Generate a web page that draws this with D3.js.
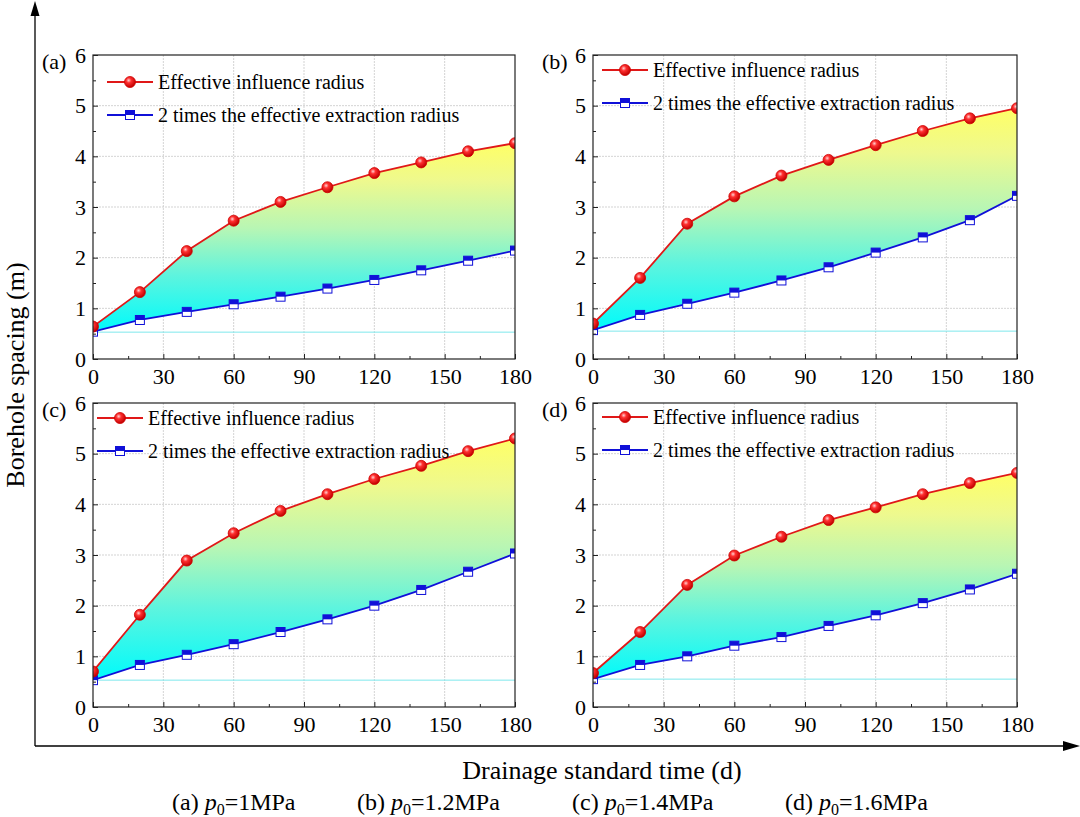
<!DOCTYPE html>
<html><head><meta charset="utf-8">
<script src="https://cdn.jsdelivr.net/npm/d3@7"></script>
<style>body{margin:0;background:#fff}svg{display:block}text{font-family:"Liberation Serif","Times New Roman",serif;fill:#000}</style>
</head><body>
<svg id="c" width="1080" height="817"></svg>
<script>
// ---- data ----
const days = [0, 20, 40, 60, 80, 100, 120, 140, 160, 180];
const panelLabels = ["(a)", "(b)", "(c)", "(d)"];
const influenceA = [0.64, 1.32, 2.13, 2.73, 3.10, 3.39, 3.67, 3.88, 4.10, 4.26];
const extractionA = [0.54, 0.77, 0.93, 1.08, 1.23, 1.39, 1.56, 1.75, 1.94, 2.14];
const influenceB = [0.70, 1.60, 2.67, 3.21, 3.62, 3.93, 4.22, 4.50, 4.75, 4.95];
const extractionB = [0.57, 0.87, 1.09, 1.31, 1.55, 1.81, 2.10, 2.40, 2.74, 3.22];
const influenceC = [0.70, 1.82, 2.89, 3.43, 3.87, 4.20, 4.50, 4.76, 5.05, 5.30];
const extractionC = [0.53, 0.83, 1.03, 1.24, 1.48, 1.73, 2.00, 2.31, 2.67, 3.03];
const influenceD = [0.67, 1.48, 2.41, 2.99, 3.36, 3.69, 3.94, 4.20, 4.42, 4.62];
const extractionD = [0.55, 0.83, 1.00, 1.21, 1.38, 1.60, 1.81, 2.05, 2.32, 2.63];
const baseLines = [0.53, 0.55, 0.53, 0.55];
const xTicks = [0, 30, 60, 90, 120, 150, 180];
const yTicks = [0, 1, 2, 3, 4, 5, 6];
const seriesNames = ["Effective influence radius", "2 times the effective extraction radius"];
const captions = [["(a) ", "1MPa"], ["(b) ", "1.2MPa"], ["(c) ", "1.4MPa"], ["(d) ", "1.6MPa"]];
const xTitle = "Drainage standard time (d)";
const yTitle = "Borehole spacing (m)";

const influence = [influenceA, influenceB, influenceC, influenceD];
const extraction = [extractionA, extractionB, extractionC, extractionD];

// ---- layout ----
const panels = [
  {l: 93, t: 55, w: 422, h: 304, lgx: 14, lgy: 27},
  {l: 593, t: 55, w: 424, h: 304, lgx: 9, lgy: 15},
  {l: 93, t: 403, w: 422, h: 304, lgx: 4, lgy: 15},
  {l: 593, t: 403, w: 424, h: 304, lgx: 9, lgy: 14}
];
const svg = d3.select("#c");
const defs = svg.append("defs");

// gradients
const fillG = defs.append("linearGradient").attr("id", "fillG")
  .attr("x1", 0).attr("y1", 1).attr("x2", 0).attr("y2", 0);
[[0, "#00fbfb"], [0.3, "#5ef4de"], [0.55, "#b8f6b4"], [0.8, "#eef98e"], [1, "#ffff66"]]
  .forEach(([o, c]) => fillG.append("stop").attr("offset", o).attr("stop-color", c));
const ballG = defs.append("radialGradient").attr("id", "ballG")
  .attr("cx", 0.38).attr("cy", 0.35).attr("r", 0.65);
[[0, "#ffd0d0"], [0.35, "#ff3030"], [1, "#c00000"]]
  .forEach(([o, c]) => ballG.append("stop").attr("offset", o).attr("stop-color", c));

const red = "#e01818", blue = "#1010d8";

function circleMarker(g, cx, cy) {
  g.append("circle").attr("cx", cx).attr("cy", cy).attr("r", 5.5)
    .attr("fill", "url(#ballG)").attr("stroke", "#d00000").attr("stroke-width", 0.8);
}
function squareMarker(g, cx, cy) {
  const s = 9;
  g.append("rect").attr("x", cx - s / 2).attr("y", cy - s / 2).attr("width", s).attr("height", s)
    .attr("fill", "#fff").attr("stroke", blue).attr("stroke-width", 1);
  g.append("rect").attr("x", cx - s / 2).attr("y", cy - s / 2).attr("width", s).attr("height", s / 2)
    .attr("fill", blue);
}

panels.forEach((p, i) => {
  const x = d3.scaleLinear().domain([0, 180]).range([p.l, p.l + p.w]);
  const y = d3.scaleLinear().domain([0, 6]).range([p.t + p.h, p.t]);
  const g = svg.append("g");
  const clipId = "clip" + i;
  defs.append("clipPath").attr("id", clipId).append("rect")
    .attr("x", p.l).attr("y", p.t).attr("width", p.w).attr("height", p.h);

  // grid
  const grid = g.append("g").attr("stroke", "#c8c8c8").attr("stroke-width", 0.8).attr("stroke-dasharray", "2,1");
  xTicks.slice(1, -1).forEach(v => grid.append("line").attr("x1", x(v)).attr("x2", x(v)).attr("y1", p.t).attr("y2", p.t + p.h));
  yTicks.slice(1, -1).forEach(v => grid.append("line").attr("y1", y(v)).attr("y2", y(v)).attr("x1", p.l).attr("x2", p.l + p.w));

  const data = days.map((d, k) => ({d, r: influence[i][k], b: extraction[i][k]}));
  const plot = g.append("g").attr("clip-path", `url(#${clipId})`);
  // baseline cyan line
  plot.append("line").attr("x1", p.l).attr("x2", p.l + p.w).attr("y1", y(baseLines[i])).attr("y2", y(baseLines[i]))
    .attr("stroke", "#7fe8ec").attr("stroke-width", 1);
  // fill
  plot.append("path").datum(data).attr("fill", "url(#fillG)")
    .attr("d", d3.area().x(v => x(v.d)).y0(v => y(v.b)).y1(v => y(v.r)));
  // lines
  plot.append("path").datum(data).attr("fill", "none").attr("stroke", red).attr("stroke-width", 1.8)
    .attr("d", d3.line().x(v => x(v.d)).y(v => y(v.r)));
  plot.append("path").datum(data).attr("fill", "none").attr("stroke", blue).attr("stroke-width", 1.8)
    .attr("d", d3.line().x(v => x(v.d)).y(v => y(v.b)));
  data.forEach(v => squareMarker(plot, x(v.d), y(v.b)));
  data.forEach(v => circleMarker(plot, x(v.d), y(v.r)));

  // axes
  const xAxis = d3.axisBottom(x).tickValues(xTicks).tickFormat(d3.format("d")).tickSizeInner(-5).tickSizeOuter(0).tickPadding(9);
  const xMinor = d3.axisBottom(x).tickValues(d3.range(15, 180, 30)).tickSize(-3).tickFormat("");
  const yAxis = d3.axisLeft(y).tickValues(yTicks).tickFormat(d3.format("d")).tickSizeInner(-5).tickSizeOuter(0).tickPadding(7);
  const yMinor = d3.axisLeft(y).tickValues(d3.range(0.5, 6, 1)).tickSize(-3).tickFormat("");
  [[xAxis, "b"], [xMinor, "b"], [yAxis, "l"], [yMinor, "l"]].forEach(([ax, side]) => {
    const a = g.append("g").attr("transform", side === "b" ? `translate(0,${p.t + p.h})` : `translate(${p.l},0)`).call(ax);
    a.select(".domain").remove();
    a.selectAll("line").attr("stroke", "#222").attr("stroke-width", 1);
    a.selectAll("text").attr("font-size", 22).style("font-family", '"Liberation Serif", serif');
  });
  // frame
  g.append("rect").attr("x", p.l).attr("y", p.t).attr("width", p.w).attr("height", p.h)
    .attr("fill", "none").attr("stroke", "#222").attr("stroke-width", 1.2);

  // panel label
  g.append("text").attr("x", p.l - 51).attr("y", p.t + 14).attr("font-size", 22).text(panelLabels[i]);

  // legend
  const lx = p.l + p.lgx, ly1 = p.t + p.lgy, ly2 = ly1 + 33;
  g.append("line").attr("x1", lx).attr("x2", lx + 46).attr("y1", ly1).attr("y2", ly1).attr("stroke", red).attr("stroke-width", 1.8);
  circleMarker(g, lx + 23, ly1);
  g.append("text").attr("x", lx + 51).attr("y", ly1 + 7).attr("font-size", 20).text(seriesNames[0]);
  g.append("line").attr("x1", lx).attr("x2", lx + 46).attr("y1", ly2).attr("y2", ly2).attr("stroke", blue).attr("stroke-width", 1.8);
  squareMarker(g, lx + 23, ly2);
  g.append("text").attr("x", lx + 51).attr("y", ly2 + 7).attr("font-size", 20).text(seriesNames[1]);
});

// outer axes with arrows
svg.append("line").attr("x1", 35).attr("x2", 35).attr("y1", 746).attr("y2", 12).attr("stroke", "#000").attr("stroke-width", 1.3);
svg.append("path").attr("d", "M35,1 L30.5,16 L39.5,16 Z").attr("fill", "#000");
svg.append("line").attr("x1", 35).attr("x2", 1068).attr("y1", 746).attr("y2", 746).attr("stroke", "#000").attr("stroke-width", 1.3);
svg.append("path").attr("d", "M1080,746 L1063,741 L1063,751 Z").attr("fill", "#000");

svg.append("text").attr("x", 602).attr("y", 779).attr("text-anchor", "middle").attr("font-size", 26).text(xTitle);
svg.append("text").attr("transform", "translate(24,375) rotate(-90)").attr("text-anchor", "middle").attr("font-size", 26).text(yTitle);

const capX = [172, 357, 572, 785];
captions.forEach((c, i) => {
  const t = svg.append("text").attr("x", capX[i]).attr("y", 810).attr("font-size", 24);
  t.append("tspan").text(c[0]);
  t.append("tspan").attr("font-style", "italic").text("p");
  t.append("tspan").attr("font-size", 16).attr("dy", 5).text("0");
  t.append("tspan").attr("dy", -5).text("=" + c[1]);
});
</script>
</body></html>
